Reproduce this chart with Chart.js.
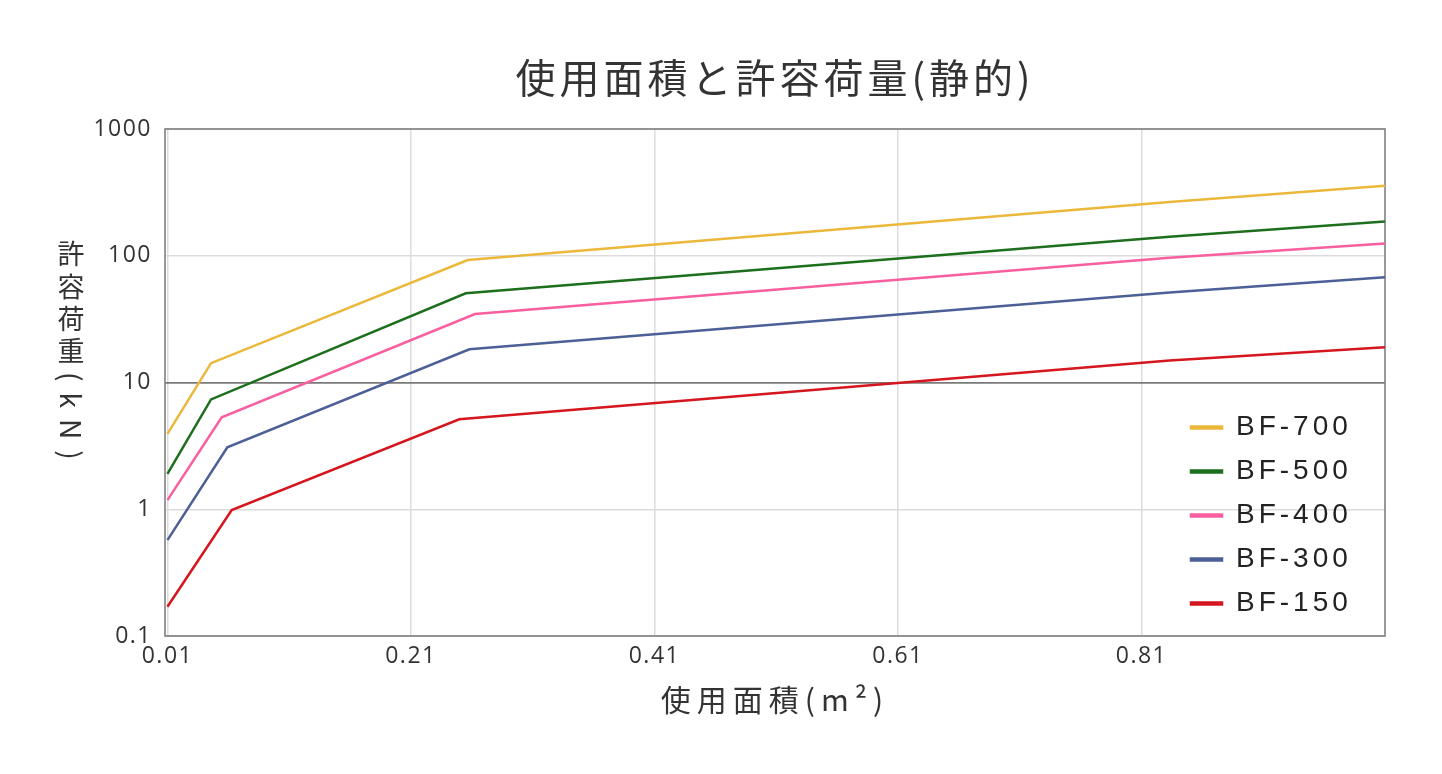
<!DOCTYPE html>
<html><head><meta charset="utf-8">
<script src="https://cdn.jsdelivr.net/npm/chart.js"></script>
<style>html,body{margin:0;padding:0;background:#fff;}#wrap{width:1442px;height:774px;}</style>
</head><body><div id="wrap"><canvas id="c" width="1442" height="774"></canvas></div>
<script>
// ---- data ----
const chartTitle = '使用面積と許容荷量(静的)';
const xAxisTitle = '使用面積(m²)';
const yTitleUpright = '許容荷重';
const yTitleRotated = '(kN)';
const seriesNames = ['BF-700', 'BF-500', 'BF-400', 'BF-300', 'BF-150'];
const seriesColors = ['#EBB83C', '#1D6F1D', '#F95F9E', '#4C5F96', '#D5161E'];

const area700 = [0.01, 0.0458, 0.2566, 0.833, 1.01];
const load700 = [3.93, 14.2, 92.5, 265, 357];
const area500 = [0.01, 0.0458, 0.255, 0.833, 1.01];
const load500 = [1.90, 7.36, 50.6, 141, 186];
const area400 = [0.01, 0.0546, 0.2626, 0.833, 1.01];
const load400 = [1.18, 5.31, 34.7, 96.3, 125];
const area300 = [0.01, 0.0592, 0.258, 0.833, 1.01];
const load300 = [0.571, 3.08, 18.3, 51.3, 67.6];
const area150 = [0.01, 0.0628, 0.2497, 0.833, 1.01];
const load150 = [0.170, 0.987, 5.13, 14.9, 19.0];

const xTickValues = [0.01, 0.21, 0.41, 0.61, 0.81];
const xTickLabels = ['0.01', '0.21', '0.41', '0.61', '0.81'];
const yTickValues = [0.1, 1, 10, 100, 1000];
const yTickLabels = ['0.1', '1', '10', '100', '1000'];

const areas = [area700, area500, area400, area300, area150];
const loads = [load700, load500, load400, load300, load150];

// ---- chart ----
const TEXT = '#333333';
const CJK = '"Noto Sans CJK JP", "Noto Sans", sans-serif';
const TICKF = '"Open Sans", "Noto Sans", sans-serif';

const datasets = seriesNames.map((name, k) => ({
  label: name,
  data: areas[k].map((x, i) => ({ x: x, y: loads[k][i] })),
  borderColor: seriesColors[k],
  backgroundColor: seriesColors[k],
  borderWidth: 2.5,
  pointRadius: 0,
  pointHoverRadius: 0,
  tension: 0,
  fill: false
}));

function wrapSpacing(ctx, obj, name, sp) {
  if (!obj || obj['__ls_' + name]) return;
  const orig = obj[name];
  obj[name] = function () {
    const prev = ctx.letterSpacing;
    ctx.letterSpacing = sp;
    try { return orig.apply(this, arguments); } finally { ctx.letterSpacing = prev; }
  };
  obj['__ls_' + name] = true;
}

const layoutPlugin = {
  id: 'layoutTweaks',
  afterLayout(chart) {
    const ctx = chart.ctx;
    const ca = chart.chartArea;
    const lg = chart.legend;
    if (lg) {
      lg.left = ca.right - 210;
      lg.right = ca.right;
      lg.width = 210;
      lg.top = 397.5;
      lg.bottom = ca.bottom;
      lg.height = lg.bottom - lg.top;
    }
    wrapSpacing(ctx, chart.titleBlock, 'draw', '4px');
    wrapSpacing(ctx, chart.legend, 'draw', '4px');
    wrapSpacing(ctx, chart.scales.x, 'drawLabels', '1.5px');
    wrapSpacing(ctx, chart.scales.x, 'drawTitle', '6px');
    wrapSpacing(ctx, chart.scales.y, 'drawLabels', '1.5px');
  },
  beforeDatasetsDraw(chart) {
    const ctx = chart.ctx, ca = chart.chartArea;
    ctx.save();
    ctx.strokeStyle = '#808080';
    ctx.lineWidth = 1.6;
    ctx.strokeRect(ca.left, ca.top, ca.right - ca.left, ca.bottom - ca.top);
    ctx.restore();
  },
  afterDraw(chart) {
    const ctx = chart.ctx;
    ctx.save();
    ctx.fillStyle = TEXT;
    ctx.font = '27px ' + CJK;
    ctx.textAlign = 'center';
    ctx.textBaseline = 'middle';
    const cx = 71;
    const chars = Array.from(yTitleUpright);
    chars.forEach((ch, i) => ctx.fillText(ch, cx, 254 + i * 32.3));
    // rotated latin part (vertical writing style)
    ctx.translate(cx, 372);
    ctx.rotate(Math.PI / 2);
    ctx.textAlign = 'left';
    ctx.font = '28px ' + CJK;
    ctx.letterSpacing = '11px';
    ctx.fillText(yTitleRotated, 0, 0);
    ctx.restore();
  }
};

new Chart(document.getElementById('c'), {
  type: 'line',
  data: { datasets: datasets },
  plugins: [layoutPlugin],
  options: {
    responsive: false,
    animation: false,
    layout: { padding: { top: 20, right: 57, bottom: 56, left: 0 } },
    plugins: {
      tooltip: { enabled: false },
      title: {
        display: true,
        text: chartTitle,
        fullSize: false,
        color: TEXT,
        font: { family: CJK, size: 40, weight: 'normal', lineHeight: 1.2 },
        padding: { top: 34, bottom: 27 }
      },
      legend: {
        display: true,
        position: 'chartArea',
        align: 'start',
        labels: {
          boxWidth: 31,
          boxHeight: 2,
          padding: 16,
          color: '#222222',
          font: { family: '"Liberation Sans", Arial, sans-serif', size: 28 }
        }
      }
    },
    scales: {
      x: {
        type: 'linear',
        min: 0.008,
        max: 1.01,
        afterBuildTicks: (s) => { s.ticks = xTickValues.map(v => ({ value: v })); },
        afterFit: (s) => { s.height = 82; },
        ticks: {
          callback: (v, i) => xTickLabels[i],
          color: TEXT,
          font: { family: TICKF, size: 23 },
          padding: 7,
          maxRotation: 0,
          autoSkip: false
        },
        grid: { color: '#dcdcdc', lineWidth: 1.5, drawTicks: false },
        border: { display: false },
        title: {
          display: true,
          text: xAxisTitle,
          color: TEXT,
          font: { family: CJK, size: 30, lineHeight: 1.2 },
          padding: { top: 12, bottom: 0 }
        }
      },
      y: {
        type: 'logarithmic',
        min: 0.1,
        max: 1000,
        afterBuildTicks: (s) => { s.ticks = yTickValues.map(v => ({ value: v })); },
        afterFit: (s) => { s.width = 165; },
        ticks: {
          callback: (v, i) => yTickLabels[i],
          color: TEXT,
          font: { family: TICKF, size: 23 },
          padding: 13,
          autoSkip: false
        },
        grid: {
          color: (c) => (c.tick && c.tick.value === 10) ? '#7a7a7a' : '#dcdcdc',
          lineWidth: (c) => (c.tick && c.tick.value === 10) ? 1.8 : 1.5,
          drawTicks: false
        },
        border: { display: false }
      }
    }
  }
});
</script>
</body></html>
